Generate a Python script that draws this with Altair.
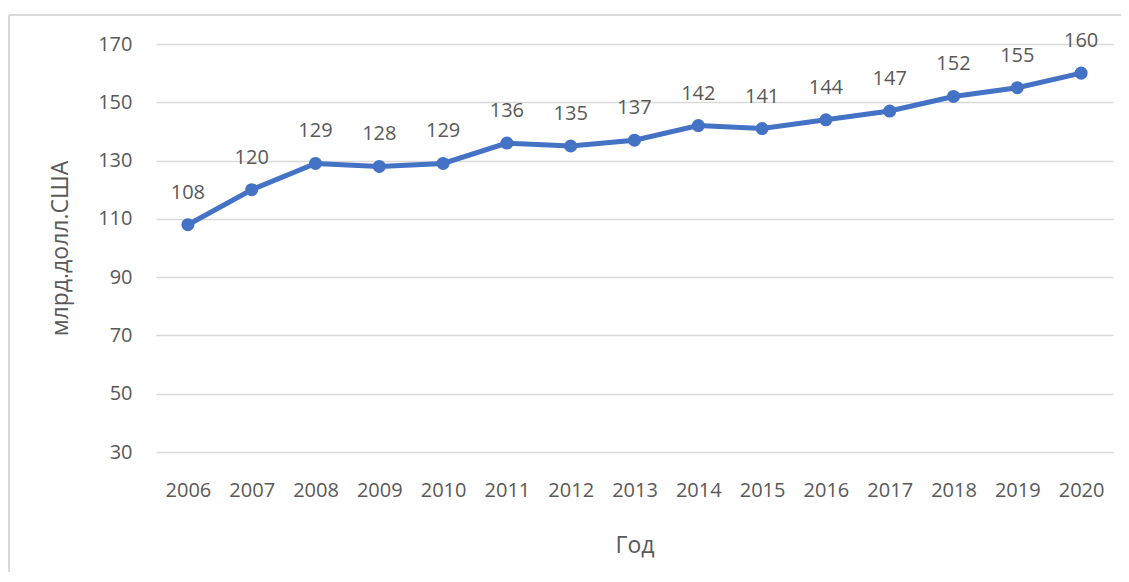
import altair as alt
import pandas as pd

years = ["2006", "2007", "2008", "2009", "2010", "2011", "2012", "2013",
         "2014", "2015", "2016", "2017", "2018", "2019", "2020"]
values = [108, 120, 129, 128, 129, 136, 135, 137, 142, 141, 144, 147, 152, 155, 160]
y_ticks = [30, 50, 70, 90, 110, 130, 150, 170]

df = pd.DataFrame({"year": years, "value": values})

FONT = "Open Sans"
TXT = "#595959"
BLUE = "#4472C4"

base = alt.Chart(df)

x = alt.X("year:N", sort=years, title="Год",
          scale=alt.Scale(paddingInner=0, paddingOuter=0.5),
          axis=alt.Axis(labelAngle=0, domain=False, ticks=False, grid=False,
                        labelPadding=28, titlePadding=34, labelFontSize=20,
                        titleFontSize=23, labelColor=TXT, titleColor=TXT,
                        labelFont=FONT, titleFont=FONT, titleFontWeight="normal"))
y = alt.Y("value:Q", title="млрд.долл.США",
          scale=alt.Scale(domain=[30, 170], nice=False, zero=False),
          axis=alt.Axis(values=y_ticks, domain=False, ticks=False, labelPadding=24,
                        titlePadding=25, labelFontSize=20, titleFontSize=23,
                        labelColor=TXT, titleColor=TXT, labelFont=FONT, titleFont=FONT,
                        titleFontWeight="normal", gridColor="#d9d9d9", gridWidth=1.5))

line = base.mark_line(color=BLUE, strokeWidth=5).encode(x=x, y=y)
points = base.mark_circle(color=BLUE, size=170, opacity=1).encode(x=x, y=y)
labels = base.mark_text(dy=-32, fontSize=20, font=FONT, color=TXT,
                        baseline="middle").encode(x=x, y=y, text="value:Q")

border_left = base.mark_rule(color="#d9d9d9", strokeWidth=2).encode(
    x=alt.value(-147), y=alt.value(-29), y2=alt.value(560))
border_top = base.mark_rule(color="#d9d9d9", strokeWidth=2).encode(
    x=alt.value(-147), x2=alt.value(1000), y=alt.value(-29))

chart = alt.layer(border_left, border_top, line, points, labels).properties(
    width=957, height=408,
    autosize=alt.AutoSizeParams(type="none"),
    padding={"left": 148, "top": 36, "right": 8, "bottom": 120},
).configure(background="white").configure_view(stroke="transparent", strokeWidth=0)

chart.save("out.html", embed_options={"renderer": "svg", "actions": False})
